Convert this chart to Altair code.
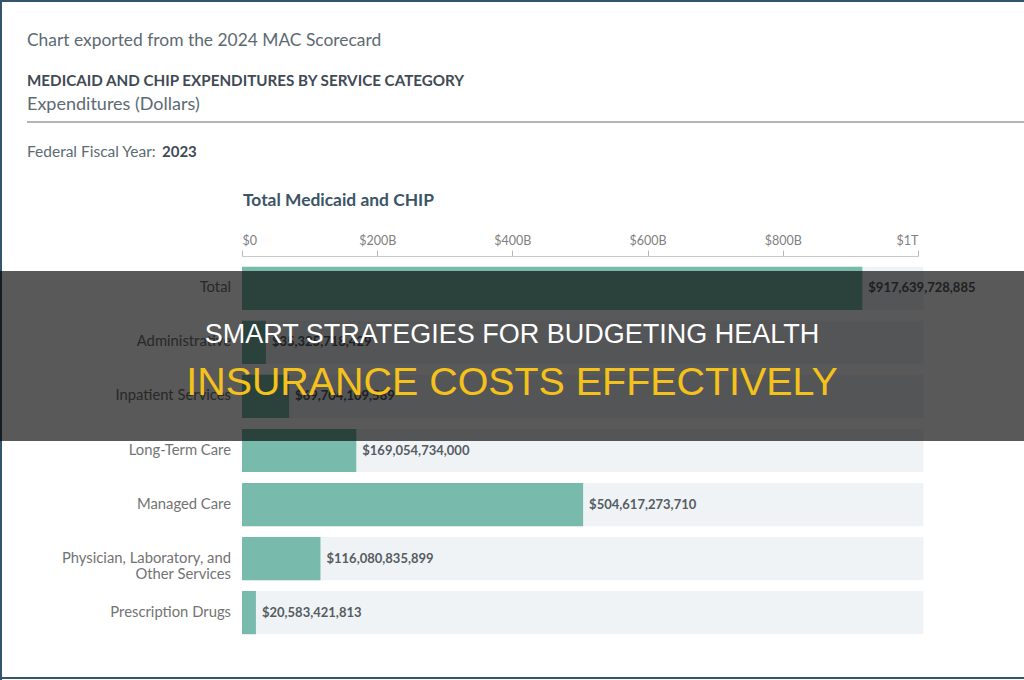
import altair as alt
import pandas as pd

categories = [
    "Total",
    "Administrative",
    "Inpatient Services",
    "Long-Term Care",
    "Managed Care",
    "Physician, Laboratory, and\nOther Services",
    "Prescription Drugs",
]
values = [917639728885, 35325718429, 69704109589, 169054734000,
          504617273710, 116080835899, 20583421813]
tick_values = [0, 200e9, 400e9, 600e9, 800e9, 1e12]
axis_max = 1e12

df = pd.DataFrame({
    "category": categories,
    "value": values,
    "label": [f"${v:,}" for v in values],
    "full": [axis_max * 1.008] * len(categories),
})

FONT = "Lato"
TEAL = "#78bbad"

y_enc = alt.Y("category:N", sort=categories, axis=None,
              scale=alt.Scale(paddingInner=0.2, paddingOuter=0.2))
x_scale = alt.Scale(domain=[0, axis_max], nice=False, clamp=False)

base = alt.Chart(df)

bg = base.mark_bar(color="#eff3f6").encode(
    x=alt.X("full:Q", scale=x_scale,
            axis=alt.Axis(orient="top", values=tick_values, title=None,
                          labelExpr="datum.value == 0 ? '$0' : (datum.value >= 1e12 ? '$1T' : '$' + round(datum.value/1e9) + 'B')",
                          labelFont=FONT, labelFontSize=12.5, labelColor="#808080",
                          tickColor="#b8b8b8", tickSize=6, domainColor="#c8c8c8",
                          labelPadding=3, grid=False)),
    y=y_enc,
)
bars = base.mark_bar(color=TEAL).encode(x=alt.X("value:Q", scale=x_scale), y=y_enc)
vlabels = base.mark_text(align="left", baseline="middle", dx=6, font=FONT,
                         fontSize=13, fontWeight="bold", color="#565c61").encode(
    x=alt.X("value:Q", scale=x_scale), y=y_enc, text="label:N")
clabels = base.mark_text(align="right", baseline="middle", font=FONT, fontSize=14.8,
                         color="#737373", lineBreak="\n", lineHeight=16).encode(
    x=alt.value(-11), y=y_enc, text="category:N")

one = alt.Data(values=[{}])


def txt(text, x, y, size, color, weight="normal", align="left", font=FONT):
    return alt.Chart(one).mark_text(align=align, baseline="alphabetic", font=font,
                                    fontSize=size, fontWeight=weight, color=color).encode(
        x=alt.value(x), y=alt.value(y), text=alt.value(text))


headers = [
    txt("Chart exported from the 2024 MAC Scorecard", -215, -210, 17.4, "#5d6a72"),
    txt("MEDICAID AND CHIP EXPENDITURES BY SERVICE CATEGORY", -215, -170, 15.2, "#3f4a55", "bold"),
    txt("Expenditures (Dollars)", -215, -146, 18, "#5d6a72"),
    txt("Federal Fiscal Year:", -215, -99, 15.5, "#5d6a72"),
    txt("2023", -80, -99, 15, "#3f4a55", "bold"),
    txt("Total Medicaid and CHIP", 1, -50, 17.4, "#3c5566", "bold"),
]

hline = alt.Chart(one).mark_rule(color="#b4b4b4", strokeWidth=2).encode(
    x=alt.value(-215), x2=alt.value(782), y=alt.value(-134))
frame_top = alt.Chart(one).mark_rule(color="#33566e", strokeWidth=2).encode(
    x=alt.value(-242), x2=alt.value(782), y=alt.value(-255))
frame_left = alt.Chart(one).mark_rule(color="#33566e", strokeWidth=2).encode(
    x=alt.value(-241), y=alt.value(-256), y2=alt.value(424))
frame_bottom = alt.Chart(one).mark_rule(color="#33566e", strokeWidth=2).encode(
    x=alt.value(-242), x2=alt.value(782), y=alt.value(422))

banner = alt.Chart(one).mark_rect(color="#000000", opacity=0.65).encode(
    x=alt.value(-242), x2=alt.value(782), y=alt.value(15), y2=alt.value(185))
banner_t1 = txt("SMART STRATEGIES FOR BUDGETING HEALTH", 270, 87, 27, "#ffffff",
                align="center", font="Liberation Sans")
banner_t2 = txt("INSURANCE COSTS EFFECTIVELY", 270, 139, 39.4, "#f5c21b",
                align="center", font="Liberation Sans")

chart = alt.layer(
    bg, bars, vlabels, clabels, *headers, hline, frame_top, frame_left, frame_bottom,
    banner, banner_t1, banner_t2
).properties(
    width=676, height=389,
    autosize=alt.AutoSizeParams(type="none"),
    padding={"left": 242, "top": 256, "right": 106, "bottom": 35},
    background="#ffffff",
).configure_view(stroke=None)

chart.save("out.html", embed_options={"renderer": "svg", "actions": False})
